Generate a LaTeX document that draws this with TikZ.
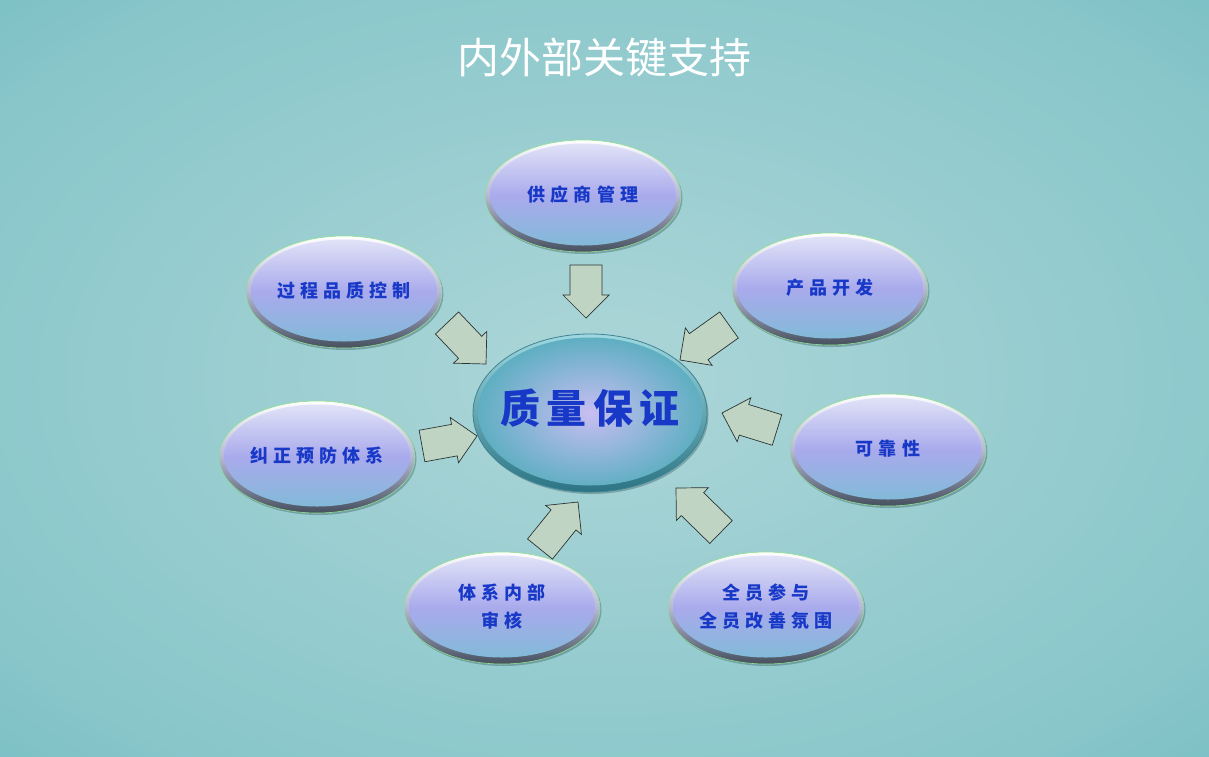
\documentclass[tikz,border=0pt]{standalone}
\usepackage{fontspec}
\newfontfamily\cjk{Noto Sans CJK SC}
\newfontfamily\cjkb{Noto Sans CJK SC}[LetterSpace=28]
\newfontfamily\cjkc{Noto Sans CJK SC}[LetterSpace=16]
\usetikzlibrary{shapes.geometric,shadows,calc}
\definecolor{bgin}{HTML}{ADD6D8}
\definecolor{bgmid}{HTML}{88C6CA}
\definecolor{bgout}{HTML}{62B4B9}
\definecolor{elltop}{HTML}{E4E6F8}
\definecolor{ellmid}{HTML}{A9AAEC}
\definecolor{ellbot}{HTML}{7DBCD6}
\definecolor{rimtop}{HTML}{FFFFFF}
\definecolor{rimmid}{HTML}{B4B8D4}
\definecolor{rimbot}{HTML}{46505E}
\definecolor{ellrim}{HTML}{8EE08E}
\definecolor{shadowc}{HTML}{2E4E58}
\definecolor{txtblue}{HTML}{1838C8}
\definecolor{cin}{HTML}{C8BEF2}
\definecolor{cout}{HTML}{5AAEC0}
\definecolor{crimtop}{HTML}{9ED8E0}
\definecolor{crimbot}{HTML}{2C7484}
\definecolor{crim}{HTML}{3D8494}
\definecolor{arrfill}{HTML}{C0D4C4}
\definecolor{arrline}{HTML}{2A3434}
\pgfdeclareradialshading{bgshade}{\pgfpoint{0bp}{0bp}}{color(0bp)=(bgin); color(30bp)=(bgmid); color(50bp)=(bgout); color(75bp)=(bgout)}
\tikzset{
  outer/.style={ellipse, minimum width=196pt, minimum height=112pt, inner sep=0pt,
    draw=ellrim, line width=0.6pt, top color=rimtop, bottom color=rimbot, middle color=rimmid,
    drop shadow={shadow xshift=1.5pt, shadow yshift=-2pt, fill=shadowc, opacity=0.35},
    path picture={\shade[top color=elltop, bottom color=ellbot, middle color=ellmid]
      ([yshift=1.5pt]path picture bounding box.center) ellipse [x radius=93pt, y radius=51pt];},
    font=\cjkb\bfseries\fontsize{18}{28}\selectfont, text=txtblue},
  core/.style={ellipse, minimum width=234pt, minimum height=158pt, inner sep=0pt,
    draw=crim, line width=0.8pt, top color=crimtop, bottom color=crimbot,
    drop shadow={shadow xshift=1.5pt, shadow yshift=-2pt, fill=shadowc, opacity=0.35},
    path picture={\shade[inner color=cin, outer color=cout]
      ([yshift=1.5pt]path picture bounding box.center) ellipse [x radius=112pt, y radius=74pt];},
    font=\cjkc\bfseries\fontsize{40}{44}\selectfont, text=txtblue},
  barrow/.style={draw=arrline, fill=arrfill, line width=0.7pt, line join=miter},
  title/.style={font=\cjk\fontsize{42}{48}\selectfont, text=white}
}
\newcommand\ctext[1]{\makebox[0pt][c]{\begin{tabular}{@{}c@{}}#1\end{tabular}}}
\newcommand\blockarrow[2]{%
  \draw[barrow] let \p1=(#1), \p2=(#2), \n1={atan2(\y2-\y1,\x2-\x1)}, \n2={veclen(\x2-\x1,\y2-\y1)} in
    [shift={(\p1)}, rotate=\n1] (0pt,-16pt) -- (\n2-23pt,-16pt) -- (\n2-23pt,-23pt) -- (\n2,0pt)
    -- (\n2-23pt,23pt) -- (\n2-23pt,16pt) -- (0pt,16pt) -- cycle;}
\begin{document}
\begin{tikzpicture}[x=1pt,y=-1pt]
\useasboundingbox (0,0) rectangle (1209,756);
\shade[shading=bgshade] (0,0) rectangle (1209,756);
\node[title] (ttl) at (604,58) {内外部关键支持};

\node[core] (qa) at (590,413) {\ctext{质量保证}};
\node[outer] (sup) at (583,196) {\ctext{供应商管理}};
\node[outer] (proc) at (344,292) {\ctext{过程品质控制}};
\node[outer] (dev) at (830,289) {\ctext{产品开发}};
\node[outer] (corr) at (317,457) {\ctext{纠正预防体系}};
\node[outer] (rel) at (888,450) {\ctext{可靠性}};
\node[outer] (aud) at (502,608) {\ctext{体系内部\\审核}};
\node[outer] (all) at (766,608) {\ctext{全员参与\\全员改善氛围}};

\coordinate (t1) at (586,265); \coordinate (h1) at (586,318);
\coordinate (t2) at (447,323); \coordinate (h2) at (486,364);
\coordinate (t3) at (729,325); \coordinate (h3) at (680,360);
\coordinate (t4) at (422,446); \coordinate (h4) at (477,436);
\coordinate (t5) at (777,430); \coordinate (h5) at (722,413);
\coordinate (t6) at (540,549); \coordinate (h6) at (578,502);
\coordinate (t7) at (721,532); \coordinate (h7) at (676,488);
\blockarrow{t1}{h1}
\blockarrow{t2}{h2}
\blockarrow{t3}{h3}
\blockarrow{t4}{h4}
\blockarrow{t5}{h5}
\blockarrow{t6}{h6}
\blockarrow{t7}{h7}
\end{tikzpicture}
\end{document}
